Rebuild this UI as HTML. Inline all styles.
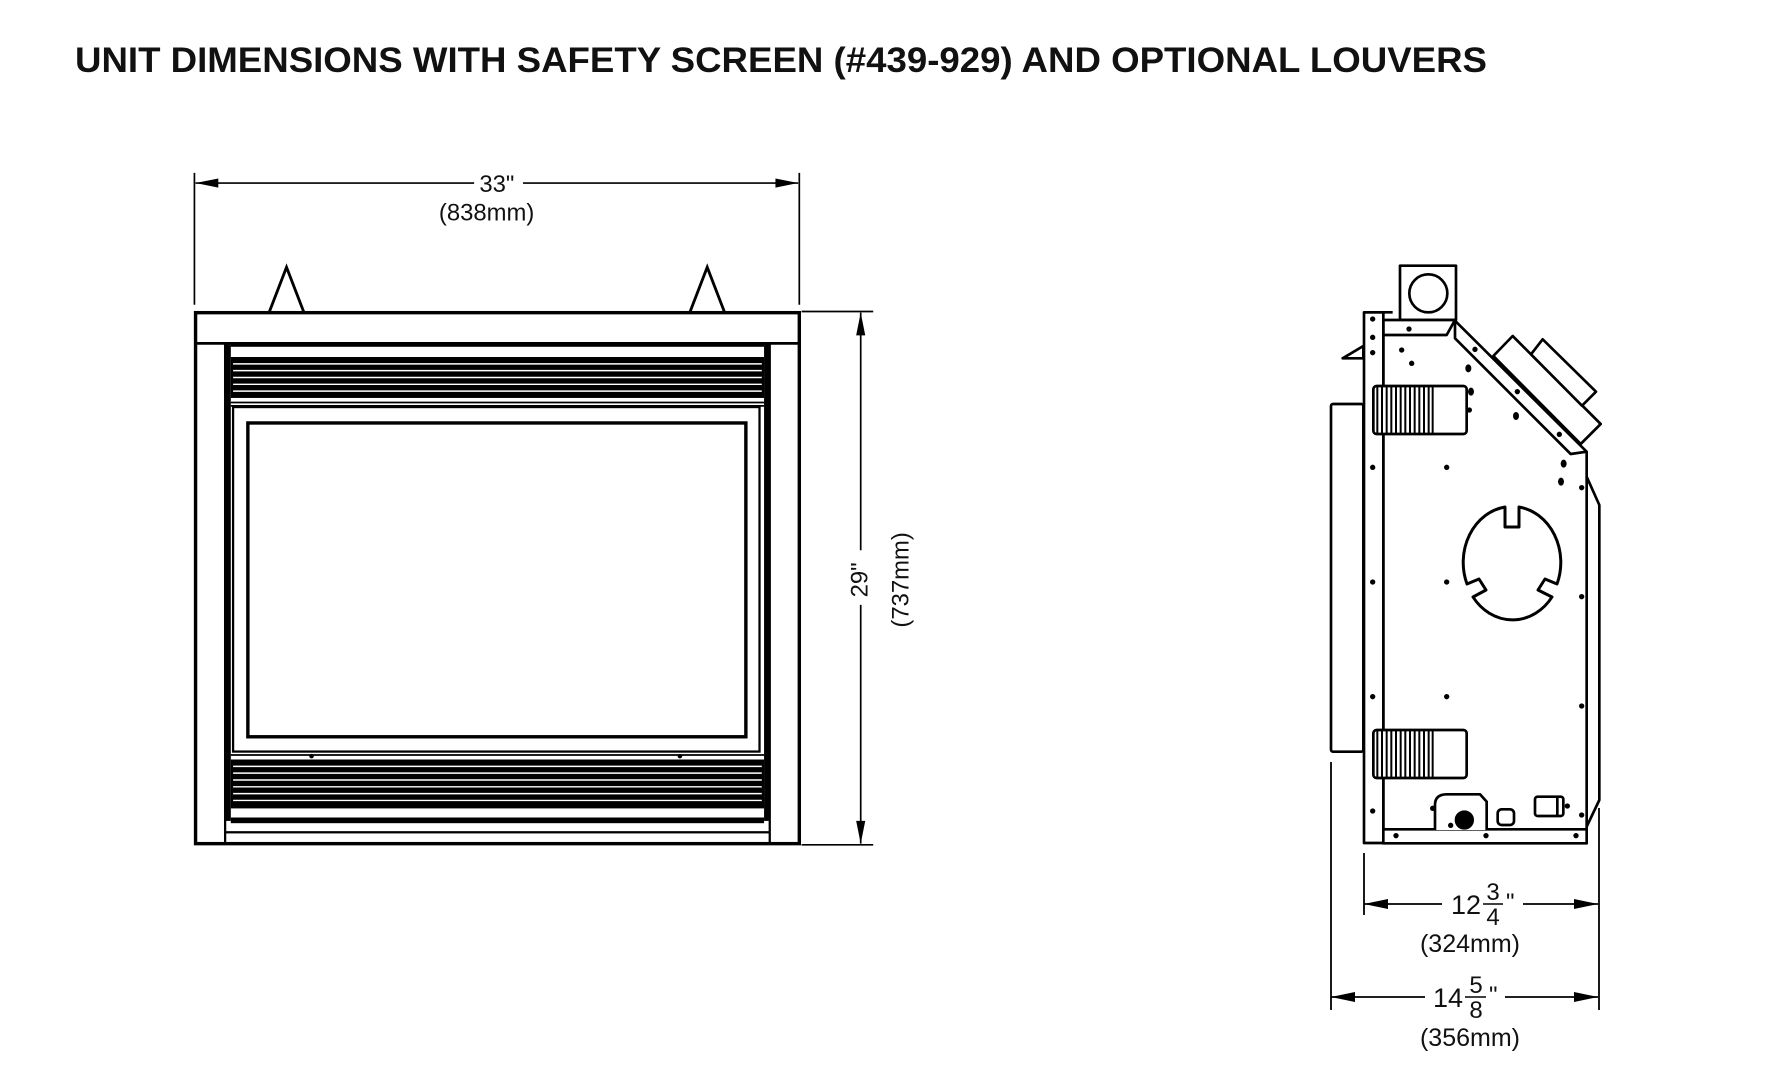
<!DOCTYPE html>
<html><head><meta charset="utf-8"><style>
html,body{margin:0;padding:0;background:#fff;}
svg{display:block;}
text{font-family:"Liberation Sans",Arial,sans-serif;fill:#111;}
</style></head><body>
<svg width="1782" height="1082" viewBox="0 0 1782 1082" xmlns="http://www.w3.org/2000/svg">
<rect width="1782" height="1082" fill="#fff"/>
<text x="75" y="72" font-size="35" font-weight="bold" textLength="1412" lengthAdjust="spacingAndGlyphs">UNIT DIMENSIONS WITH SAFETY SCREEN (#439-929) AND OPTIONAL LOUVERS</text>

<!-- FRONT VIEW (preview coords) -->
<g transform="scale(1.137)" stroke="#000" fill="none">
  <!-- width dim -->
  <line x1="171" y1="152" x2="171" y2="268" stroke-width="1.5"/>
  <line x1="703" y1="152" x2="703" y2="268" stroke-width="1.5"/>
  <line x1="172" y1="161" x2="417" y2="161" stroke-width="1.5"/>
  <line x1="460" y1="161" x2="702" y2="161" stroke-width="1.5"/>
  <polygon points="172,161 192,157 192,165" fill="#000" stroke="none"/>
  <polygon points="702,161 682,157 682,165" fill="#000" stroke="none"/>
  <text x="437" y="169" font-size="21" text-anchor="middle" stroke="none">33"</text>
  <text x="428" y="194" font-size="21" text-anchor="middle" stroke="none">(838mm)</text>
  <!-- triangles -->
  <polyline points="237,274 252,235 267,274" stroke-width="2.5"/>
  <polyline points="607,274 622,235 637,274" stroke-width="2.5"/>
  <!-- outer frame -->
  <rect x="172" y="275" width="531" height="467" stroke-width="3" fill="#fff"/>
  <line x1="172" y1="302" x2="703" y2="302" stroke-width="2.5"/>
  <line x1="198" y1="302" x2="198" y2="742" stroke-width="2"/>
  <line x1="677" y1="302" x2="677" y2="742" stroke-width="2"/>
  <rect x="198" y="302" width="5" height="420" fill="#000" stroke="none"/>
  <rect x="672" y="302" width="5" height="420" fill="#000" stroke="none"/>
  <!-- top louvers -->
  <rect x="203" y="302" width="469" height="3" fill="#000" stroke="none"/>
  <rect x="203" y="314" width="469" height="36" fill="#000" stroke="none"/>
  <g stroke="#fff" stroke-width="1.3">
    <line x1="205" y1="320" x2="670" y2="320"/><line x1="205" y1="326" x2="670" y2="326"/>
    <line x1="205" y1="332" x2="670" y2="332"/><line x1="205" y1="338" x2="670" y2="338"/>
    <line x1="205" y1="344" x2="670" y2="344"/>
  </g>
  <line x1="203" y1="354" x2="672" y2="354" stroke-width="1.5"/>
  <line x1="203" y1="357" x2="672" y2="357" stroke-width="1.5"/>
  <!-- glass -->
  <rect x="205" y="358" width="463" height="303" stroke-width="2"/>
  <rect x="218" y="372" width="438" height="276" stroke-width="3"/>
  <!-- bottom louvers -->
  <line x1="203" y1="664" x2="672" y2="664" stroke-width="1.5"/>
  <circle cx="274" cy="665" r="2" fill="#000" stroke="none"/>
  <circle cx="598" cy="665" r="2" fill="#000" stroke="none"/>
  <rect x="203" y="668" width="469" height="43" fill="#000" stroke="none"/>
  <g stroke="#fff" stroke-width="1.3">
    <line x1="205" y1="674" x2="670" y2="674"/><line x1="205" y1="680" x2="670" y2="680"/>
    <line x1="205" y1="686" x2="670" y2="686"/><line x1="205" y1="692" x2="670" y2="692"/>
    <line x1="205" y1="698" x2="670" y2="698"/><line x1="205" y1="704" x2="670" y2="704"/>
  </g>
  <rect x="203" y="719" width="469" height="5" fill="#000" stroke="none"/>
  <rect x="198" y="731" width="479" height="2" fill="#000" stroke="none"/>
  <!-- height dim -->
  <line x1="705" y1="274" x2="768" y2="274" stroke-width="1.5"/>
  <line x1="705" y1="743" x2="768" y2="743" stroke-width="1.5"/>
  <line x1="757" y1="275" x2="757" y2="484" stroke-width="1.5"/>
  <line x1="757" y1="532" x2="757" y2="742" stroke-width="1.5"/>
  <polygon points="757,275 753,295 761,295" fill="#000" stroke="none"/>
  <polygon points="757,742 753,722 761,722" fill="#000" stroke="none"/>
  <text transform="translate(763,510) rotate(-90)" font-size="21" text-anchor="middle" stroke="none">29"</text>
  <text transform="translate(799,510) rotate(-90)" font-size="21" text-anchor="middle" stroke="none">(737mm)</text>
</g>

<!-- SIDE VIEW (zoom px coords) -->
<g transform="translate(1320,250) scale(0.33333)" stroke="#000" fill="none" stroke-width="8" stroke-linejoin="round">
  <!-- vent boxes -->
  <polygon points="520,318 578,258 842,522 782,582" fill="#fff"/>
  <polygon points="633,313 668,268 828,425 786,467" fill="#fff"/>
  <!-- flue -->
  <rect x="240" y="47" width="168" height="163" fill="#fff"/>
  <circle cx="325" cy="130" r="57"/>
  <!-- front panel -->
  <rect x="33" y="462" width="97" height="1043" fill="#fff" rx="6"/>
  <!-- hook -->
  <polygon points="130,288 68,325 130,325" fill="#fff"/>
  <!-- main body -->
  <path d="M190,255 L190,1779 L800,1779 L800,605 L752,612 L405,265 L405,212 L800,605" fill="#fff"/>
  <path d="M800,680 L838,765 L838,1650 L800,1730"/>
  <path d="M190,210 L405,210 L380,255 L190,255 Z" fill="#fff"/>
  <rect x="132" y="187" width="58" height="1592" fill="#fff"/>
  <line x1="132" y1="187" x2="218" y2="187"/>
  <rect x="190" y="1738" width="610" height="42" fill="#fff"/>
  <!-- louver blocks -->
  <g>
    <rect x="160" y="408" width="280" height="144" rx="10" fill="#fff"/>
    <path d="M172,408V552M186,408V552M200,408V552M214,408V552M228,408V552M242,408V552M256,408V552M270,408V552M284,408V552M298,408V552M312,408V552M326,408V552M338,408V552" stroke-width="6"/>
  </g>
  <g transform="translate(0,1032)">
    <rect x="160" y="408" width="280" height="144" rx="10" fill="#fff"/>
    <path d="M172,408V552M186,408V552M200,408V552M214,408V552M228,408V552M242,408V552M256,408V552M270,408V552M284,408V552M298,408V552M312,408V552M326,408V552M338,408V552" stroke-width="6"/>
  </g>
  <!-- bottom components -->
  <path d="M345,1740 L345,1665 Q345,1633 380,1633 L480,1633 L500,1655 L500,1740" fill="#fff"/>
  <circle cx="433" cy="1710" r="25" fill="#000"/>
  <rect x="533" y="1678" width="49" height="47" rx="12"/>
  <rect x="645" y="1640" width="85" height="58" rx="8"/>
  <line x1="712" y1="1640" x2="712" y2="1698"/>
  <!-- dots -->
  <g fill="#000" stroke="none">
    <circle cx="158" cy="207" r="8"/><circle cx="158" cy="262" r="8"/><circle cx="158" cy="308" r="8"/>
    <circle cx="158" cy="652" r="8"/><circle cx="158" cy="996" r="8"/><circle cx="158" cy="1340" r="8"/><circle cx="158" cy="1683" r="8"/>
    <circle cx="267" cy="237" r="8"/><circle cx="245" cy="300" r="8"/><circle cx="275" cy="340" r="8"/>
    <ellipse cx="445" cy="355" rx="9" ry="12"/><ellipse cx="453" cy="425" rx="9" ry="12"/><circle cx="448" cy="480" r="8"/>
    <circle cx="465" cy="298" r="8"/><circle cx="592" cy="425" r="8"/><ellipse cx="588" cy="498" rx="9" ry="12"/>
    <circle cx="718" cy="553" r="8"/><ellipse cx="731" cy="641" rx="9" ry="12"/><ellipse cx="723" cy="695" rx="9" ry="12"/>
    <circle cx="785" cy="713" r="8"/><circle cx="380" cy="652" r="8"/><circle cx="380" cy="996" r="8"/>
    <circle cx="785" cy="1040" r="8"/><circle cx="380" cy="1340" r="8"/><circle cx="785" cy="1368" r="8"/><circle cx="785" cy="1695" r="8"/>
    <circle cx="228" cy="1757" r="8"/><circle cx="498" cy="1757" r="8"/><circle cx="768" cy="1757" r="8"/>
    <circle cx="392" cy="1726" r="8"/><circle cx="338" cy="1675" r="8"/><circle cx="742" cy="1668" r="8"/>
  </g>
</g>
<!-- side circle (real coords) -->
<path d="M1519,507 A49,56 0 0 1 1557,584 L1545,579 L1538,590 L1552,597 A49,56 0 0 1 1473,597 L1486,590 L1479,579 L1467,584 A49,56 0 0 1 1505,507 L1505,527 L1519,527 Z" fill="none" stroke="#000" stroke-width="3" stroke-linejoin="round"/>

<!-- side dims -->
<g stroke="#000" stroke-width="1.8" fill="none">
  <line x1="1331" y1="762" x2="1331" y2="1010"/>
  <line x1="1364" y1="853" x2="1364" y2="915"/>
  <line x1="1599" y1="808" x2="1599" y2="1010"/>
  <line x1="1364" y1="904" x2="1442" y2="904"/>
  <line x1="1523" y1="904" x2="1598" y2="904"/>
  <line x1="1331" y1="997" x2="1425" y2="997"/>
  <line x1="1505" y1="997" x2="1598" y2="997"/>
  <line x1="1483" y1="904" x2="1503" y2="904" stroke-width="1.5"/>
  <line x1="1465" y1="997" x2="1486" y2="997" stroke-width="1.5"/>
</g>
<g fill="#000">
  <polygon points="1364,904 1388,899 1388,909"/><polygon points="1598,904 1574,899 1574,909"/>
  <polygon points="1331,997 1355,992 1355,1002"/><polygon points="1598,997 1574,992 1574,1002"/>
</g>
<text x="1451" y="914" font-size="27">12</text>
<text x="1493" y="900" font-size="24" text-anchor="middle">3</text>
<text x="1493" y="925" font-size="24" text-anchor="middle">4</text>
<text x="1506" y="910" font-size="24">"</text>
<text x="1470" y="952" font-size="25" text-anchor="middle">(324mm)</text>
<text x="1433" y="1007" font-size="27">14</text>
<text x="1476" y="993" font-size="24" text-anchor="middle">5</text>
<text x="1476" y="1018" font-size="24" text-anchor="middle">8</text>
<text x="1489" y="1003" font-size="24">"</text>
<text x="1470" y="1046" font-size="25" text-anchor="middle">(356mm)</text>
</svg>
</body></html>
